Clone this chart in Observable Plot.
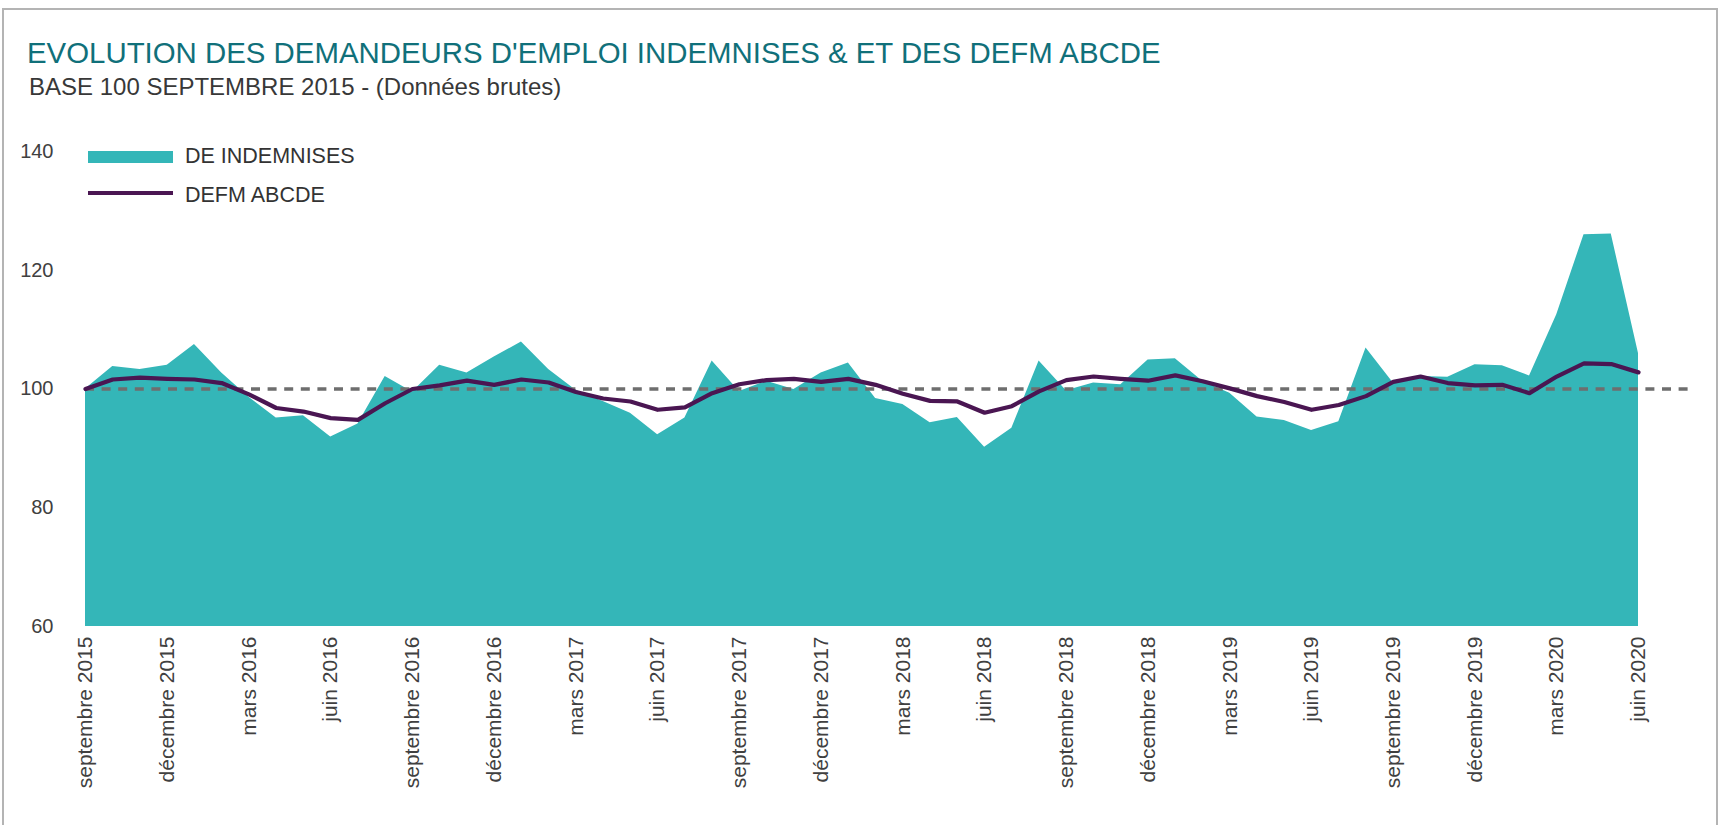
<!DOCTYPE html>
<html>
<head>
<meta charset="utf-8">
<script src="https://cdn.jsdelivr.net/npm/d3@7"></script>
<script src="https://cdn.jsdelivr.net/npm/@observablehq/plot@0.6"></script>
<style>
  html, body { margin: 0; padding: 0; background: #fff; overflow: hidden; }
  body { width: 1726px; height: 825px; position: relative; font-family: "Liberation Sans", Arial, sans-serif; }
  #frame { position: absolute; left: 2px; top: 8px; width: 1716px; height: 900px; border: 2px solid #b4b4b4; box-sizing: border-box; z-index: 10; pointer-events: none; }
  #title { position: absolute; left: 27px; top: 36px; font-size: 29.4px; color: #10707a; white-space: nowrap; }
  #subtitle { position: absolute; left: 29px; top: 73px; font-size: 24px; color: #383838; white-space: nowrap; }
  #chart { position: absolute; left: 0; top: 0; }
  .leg { position: absolute; font-size: 21.5px; color: #333; white-space: nowrap; }
  .sw { position: absolute; }
</style>
</head>
<body>
<div id="chart"></div>
<div id="frame"></div>
<div id="title">EVOLUTION DES DEMANDEURS D'EMPLOI INDEMNISES &amp; ET DES DEFM ABCDE</div>
<div id="subtitle">BASE 100 SEPTEMBRE 2015 - (Données brutes)</div>
<div class="sw" style="left:88px; top:151px; width:85px; height:12px; background:#34b6b8;"></div>
<div class="leg" style="left:185px; top:144px;">DE INDEMNISES</div>
<div class="sw" style="left:88px; top:190.5px; width:85px; height:4px; background:#4a1652;"></div>
<div class="leg" style="left:185px; top:182.5px;">DEFM ABCDE</div>
<script>
const months = [
  "septembre 2015","octobre 2015","novembre 2015","décembre 2015",
  "janvier 2016","février 2016","mars 2016","avril 2016","mai 2016","juin 2016","juillet 2016","août 2016","septembre 2016","octobre 2016","novembre 2016","décembre 2016",
  "janvier 2017","février 2017","mars 2017","avril 2017","mai 2017","juin 2017","juillet 2017","août 2017","septembre 2017","octobre 2017","novembre 2017","décembre 2017",
  "janvier 2018","février 2018","mars 2018","avril 2018","mai 2018","juin 2018","juillet 2018","août 2018","septembre 2018","octobre 2018","novembre 2018","décembre 2018",
  "janvier 2019","février 2019","mars 2019","avril 2019","mai 2019","juin 2019","juillet 2019","août 2019","septembre 2019","octobre 2019","novembre 2019","décembre 2019",
  "janvier 2020","février 2020","mars 2020","avril 2020","mai 2020","juin 2020"
];
const tickLabels = [
  "septembre 2015","décembre 2015","mars 2016","juin 2016","septembre 2016","décembre 2016",
  "mars 2017","juin 2017","septembre 2017","décembre 2017","mars 2018","juin 2018",
  "septembre 2018","décembre 2018","mars 2019","juin 2019","septembre 2019","décembre 2019",
  "mars 2020","juin 2020"
];
const deIndemnises = [
  100, 103.8, 103.3, 104.0, 107.5, 102.7, 98.6, 95.1, 95.5, 91.9, 94.1, 102.1,
  99.5, 104.0, 102.7, 105.4, 107.9, 103.3, 99.8, 97.9, 95.9, 92.3, 95.1, 104.7,
  99.6, 101.3, 99.9, 102.7, 104.4, 98.4, 97.4, 94.3, 95.2, 90.2, 93.4, 104.7,
  99.7, 101.0, 100.7, 104.9, 105.1, 101.3, 99.3, 95.3, 94.7, 93.0, 94.5, 106.9,
  101.0, 102.1, 102.0, 104.1, 103.9, 102.2, 112.5, 126.0, 126.1, 106.0
];
const defmABCDE = [
  100, 101.6, 101.9, 101.7, 101.6, 101.0, 99.1, 96.8, 96.2, 95.1, 94.8, 97.6,
  100.0, 100.6, 101.4, 100.7, 101.6, 101.1, 99.5, 98.4, 97.9, 96.5, 96.9, 99.3,
  100.8, 101.5, 101.7, 101.2, 101.7, 100.7, 99.2, 98.0, 97.9, 96.0, 97.1, 99.6,
  101.5, 102.1, 101.7, 101.4, 102.3, 101.3, 100.1, 98.8, 97.8, 96.5, 97.3, 98.8,
  101.2, 102.1, 101.0, 100.6, 100.7, 99.3, 102.1, 104.3, 104.2, 102.8
];
const yTicks = [60, 80, 100, 120, 140];
const baseValue = [100];
const baseLineMonths = 60; // reference line drawn over 60 monthly categories (to août 2020)

const data = months.map((m, i) => ({i, month: m, ind: deIndemnises[i], defm: defmABCDE[i]}));
const tickIdx = tickLabels.map(l => months.indexOf(l));

const chart = Plot.plot({
  width: 1726,
  height: 825,
  marginLeft: 85,
  marginRight: 88,
  marginTop: 151,
  marginBottom: 199,
  x: {type: "linear", domain: [0, months.length - 1]},
  y: {domain: [60, 140]},
  style: {fontFamily: "'Liberation Sans', Arial, sans-serif", color: "#404040", background: "transparent", overflow: "visible"},
  marks: [
    Plot.areaY(data, {x: "i", y1: 60, y2: "ind", fill: "#34b6b8", curve: "linear"}),
    Plot.ruleY(baseValue, {x1: 0, x2: baseLineMonths - 1, stroke: "#6e6e6e", strokeWidth: 3.3, strokeDasharray: "9,7.6"}),
    Plot.lineY(data, {x: "i", y: "defm", stroke: "#4a1652", strokeWidth: 4.2, curve: "linear", strokeLinejoin: "round"}),
    Plot.axisY({ticks: yTicks, tickSize: 0, tickPadding: 32, fontSize: 20, tickFormat: d => String(d), label: null}),
    Plot.axisX({ticks: tickIdx, tickFormat: i => months[i], tickRotate: -90, tickSize: 0, tickPadding: 10, fontSize: 21, label: null})
  ]
});
document.getElementById("chart").appendChild(chart);
</script>
</body>
</html>
